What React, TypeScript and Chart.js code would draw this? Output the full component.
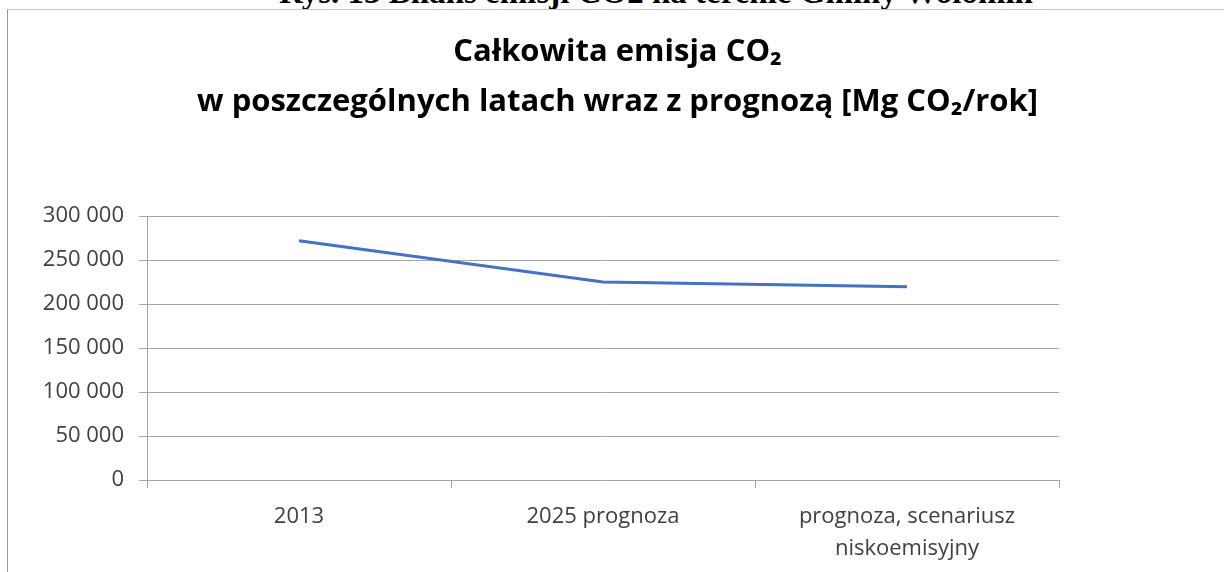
import React, { useEffect, useRef } from "react";
import { Chart, registerables } from "chart.js";

Chart.register(...registerables);

const categories: (string | string[])[] = [
  "2013",
  "2025 prognoza",
  ["prognoza, scenariusz", "niskoemisyjny"],
];
const emissions: number[] = [272000, 225000, 219500];
const titleLines: string[] = [
  "Całkowita emisja CO₂",
  "w poszczególnych latach wraz z prognozą [Mg CO₂/rok]",
];
const captionText = "Rys. 13 Bilans emisji CO2 na terenie Gminy Wołomin";

const fmt = (v: number) =>
  String(Math.round(v)).replace(/\B(?=(\d{3})+(?!\d))/g, " ");

const titlePlugin = {
  id: "centerTitle",
  afterDraw(chart: any) {
    const ctx = chart.ctx;
    ctx.save();
    ctx.fillStyle = "#000000";
    ctx.font = "bold 31px 'Open Sans'";
    ctx.textAlign = "center";
    ctx.textBaseline = "middle";
    const cx = chart.width / 2;
    ctx.fillText(titleLines[0], cx, 39);
    ctx.fillText(titleLines[1], cx, 89);
    ctx.restore();
  },
};

export default function App() {
  const ref = useRef<HTMLCanvasElement | null>(null);

  useEffect(() => {
    document.body.style.margin = "0";
    if (!ref.current) return;
    const chart = new Chart(ref.current, {
      type: "line",
      data: {
        labels: categories,
        datasets: [
          {
            data: emissions,
            borderColor: "#4472C4",
            borderWidth: 3,
            pointRadius: 0,
            tension: 0,
            fill: false,
          },
        ],
      },
      plugins: [titlePlugin],
      options: {
        animation: false,
        responsive: false,
        maintainAspectRatio: false,
        layout: { padding: { top: 203, right: 165, left: 0, bottom: 0 } },
        plugins: {
          legend: { display: false },
          tooltip: { enabled: false },
          title: { display: false },
        },
        scales: {
          x: {
            type: "category",
            offset: true,
            grid: {
              offset: true,
              drawOnChartArea: false,
              drawTicks: true,
              tickLength: 8,
              color: "#a6a6a6",
            },
            border: { color: "#a6a6a6" },
            ticks: {
              color: "#404040",
              font: { family: "'Open Sans'", size: 22, lineHeight: 1.45 },
              padding: 13,
              maxRotation: 0,
            },
            afterFit: (s: any) => {
              s.height = 92;
            },
          },
          y: {
            min: 0,
            max: 300000,
            ticks: {
              stepSize: 50000,
              color: "#404040",
              font: { family: "'Open Sans'", size: 22 },
              padding: 15,
              callback: (v: any) => fmt(Number(v)),
            },
            grid: { color: "#a6a6a6", tickLength: 8 },
            border: { color: "#a6a6a6" },
            afterFit: (s: any) => {
              s.width = 136;
            },
          },
        },
      },
    });
    return () => chart.destroy();
  }, []);

  return (
    <div
      style={{
        position: "fixed",
        left: 0,
        top: 0,
        width: 1224,
        height: 572,
        overflow: "hidden",
        background: "#ffffff",
      }}
    >
      <div
        style={{
          position: "absolute",
          left: 0,
          width: 1312,
          top: -26,
          textAlign: "center",
          fontFamily: "'Liberation Serif', serif",
          fontWeight: "bold",
          fontSize: 33,
          lineHeight: "36px",
          whiteSpace: "nowrap",
        }}
      >
        {captionText}
      </div>
      <div
        style={{
          position: "absolute",
          left: 7,
          top: 9,
          right: -2,
          bottom: -2,
          borderLeft: "1px solid #999999",
          borderTop: "1px solid #c8c8c8",
        }}
      />
      <canvas
        ref={ref}
        width={1213}
        height={559}
        style={{ position: "absolute", left: 11, top: 13, width: 1213, height: 559 }}
      />
    </div>
  );
}
